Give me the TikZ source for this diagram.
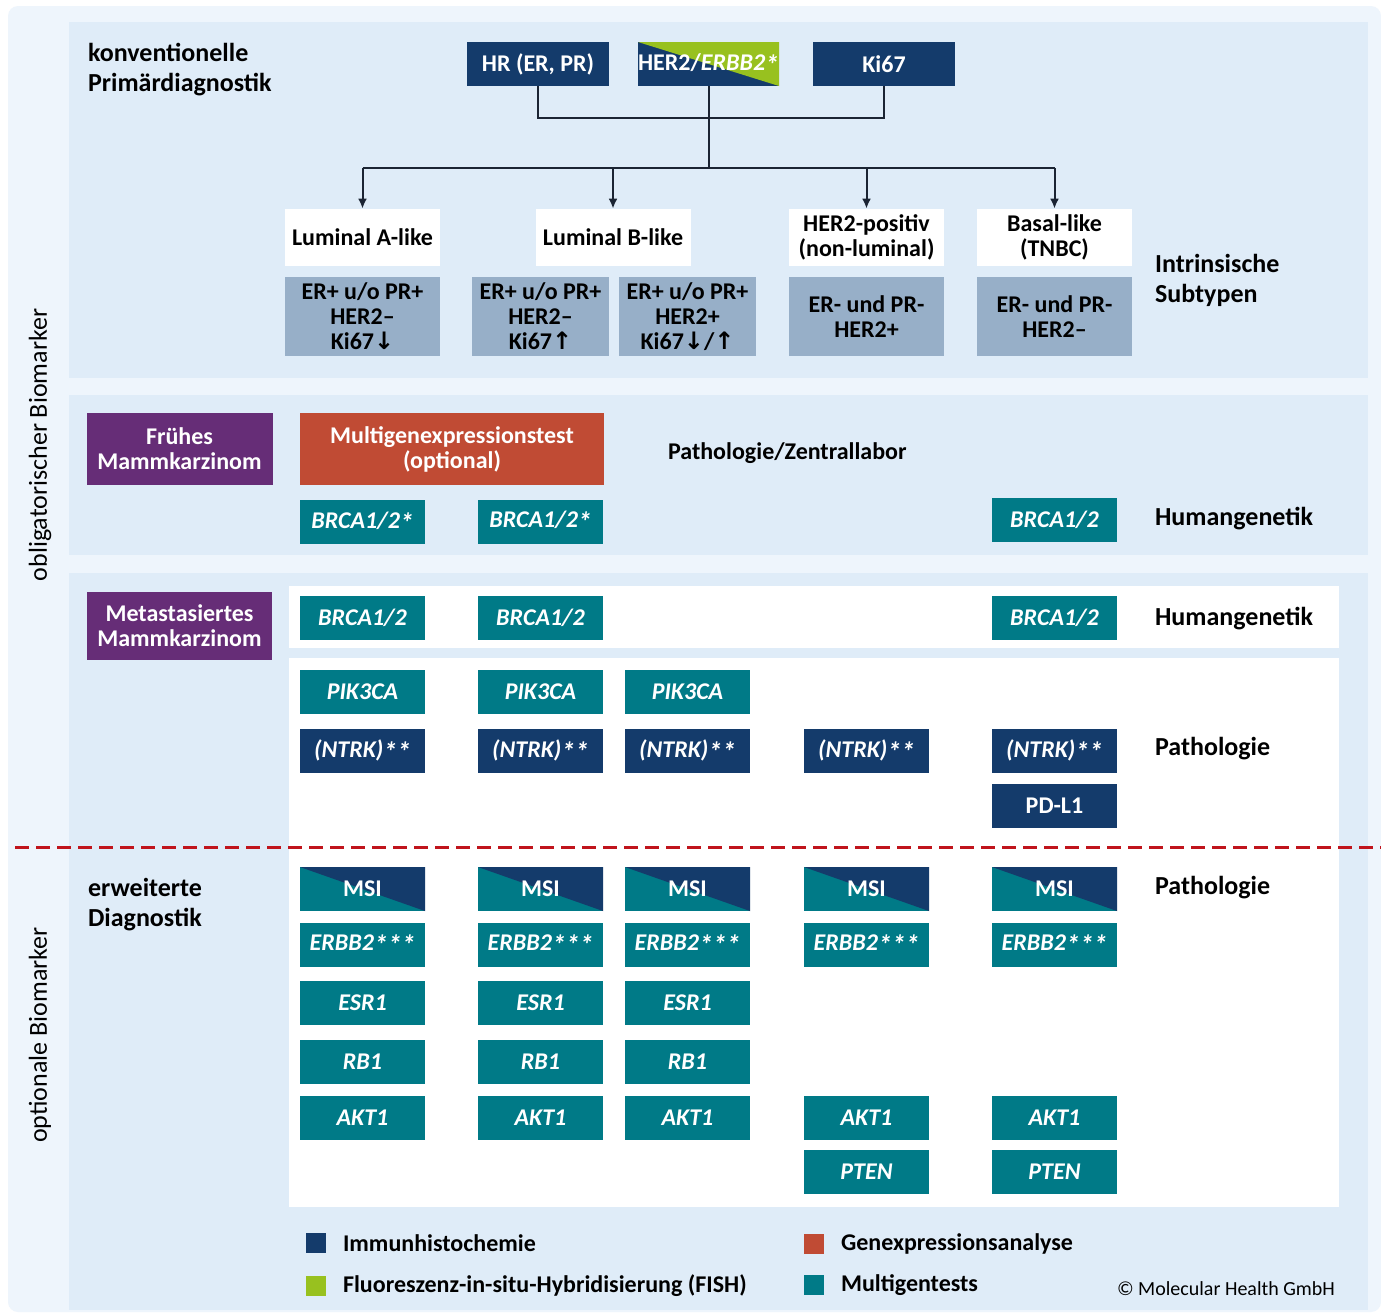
\documentclass[tikz,border=0pt]{standalone}
\usepackage{fontspec}
\setmainfont{Carlito}
\newfontfamily\arrowfont{DejaVu Sans}
\usetikzlibrary{arrows.meta}

\definecolor{navy}{HTML}{143B6B}
\definecolor{petrol}{HTML}{007A87}
\definecolor{lime}{HTML}{98C11F}
\definecolor{brick}{HTML}{C04B34}
\definecolor{plum}{HTML}{662D77}
\definecolor{slate}{HTML}{97AFC8}
\definecolor{panel}{HTML}{DFECF8}
\definecolor{pale}{HTML}{EEF5FC}
\definecolor{cutline}{HTML}{C0141C}
\definecolor{wire}{HTML}{1B2433}

% footnote star, set lower and larger than Carlito's raised asterisk
\newcommand\fnstar{\raisebox{-0.35ex}{\scalebox{1.15}{*}}}

\tikzset{
  box/.style={inner sep=0pt, align=center, font=\fontsize{12}{12.5}\selectfont\bfseries},
  ihc/.style={box, fill=navy, text=white, minimum width=71pt, minimum height=22pt},
  gene/.style={box, fill=petrol, text=white, minimum width=62.5pt, minimum height=22pt,
    font=\fontsize{12}{12.5}\selectfont\bfseries\itshape},
  ihcgene/.style={gene, fill=navy},
  halves/.style={path picture={\fill[#1] (path picture bounding box.north west)
    -- (path picture bounding box.north east) -- (path picture bounding box.south east) -- cycle;}},
  msi/.style={box, fill=petrol, text=white, halves=navy, minimum width=62.5pt, minimum height=22pt},
  subtype/.style={box, fill=white, minimum width=77.5pt, minimum height=28.5pt},
  profile/.style={box, fill=slate, minimum width=77.5pt, minimum height=39.5pt},
  entity/.style={box, fill=plum, text=white, minimum width=93pt},
  lbl/.style={anchor=west, align=left, font=\fontsize{13}{15}\selectfont\bfseries},
  side/.style={rotate=90, font=\fontsize{13}{15}\selectfont},
  link/.style={draw=wire, line width=1pt},
  arrow/.style={link, -{Latex[length=5pt,width=4.5pt]}},
  key/.style={fill=#1, minimum size=10pt, inner sep=0pt},
  keytext/.style={anchor=west, font=\fontsize{12}{14}\selectfont\bfseries}
}

\begin{document}
\begin{tikzpicture}[x=0.5pt, y=-0.5pt]
\useasboundingbox (0,0) rectangle (1381,1314);
% backgrounds
\fill[white] (0,0) rectangle (1381,1314);
\fill[pale, rounded corners=5pt] (8,6) rectangle (1381,1312);
\fill[panel] (69,22) rectangle (1368,378);
\fill[panel] (69,395) rectangle (1368,555);
\fill[panel] (69,573) rectangle (1368,1310);
\fill[white] (289,586) rectangle (1339,648);
\fill[white] (289,658) rectangle (1339,1207);

% side labels
\node (oblig) [side] at (40,445) {obligatorischer Biomarker};
\node (option) [side] at (40,1035) {optionale Biomarker};

% conventional diagnostics
\node (konv) [lbl] at (81,70) {konventionelle\\Primärdiagnostik};
\node (hr) [ihc] at (538,64) {HR (ER, PR)};
\node (her) [ihc, minimum width=70.5pt, halves=lime] at (708.5,64) {HER2/\textit{ERBB2\fnstar}};
\node (ki) [ihc] at (884,64) {Ki67};

\node (luma) [subtype] at (362.5,237.5) {Luminal A-like};
\node (lumb) [subtype] at (613,237.5) {Luminal B-like};
\node (herpos) [subtype] at (866.5,237.5) {HER2-positiv\\(non-luminal)};
\node (basal) [subtype] at (1054.5,237.5) {Basal-like\\(TNBC)};

\node (proa) [profile] at (362.5,316.5) {ER+ u/o PR+\\HER2–\\Ki67{\arrowfont↓}};
\node (prob1) [profile, minimum width=68.5pt] at (540.5,316.5) {ER+ u/o PR+\\HER2–\\Ki67{\arrowfont↑}};
\node (prob2) [profile, minimum width=68.5pt] at (687.5,316.5) {ER+ u/o PR+\\HER2+\\Ki67{\arrowfont↓}/{\arrowfont↑}};
\node (proh) [profile] at (866.5,316.5) {ER- und PR-\\HER2+};
\node (prot) [profile] at (1054.5,316.5) {ER- und PR-\\HER2–};
\node (intr) [lbl] at (1148,280) {Intrinsische\\Subtypen};

\coordinate (merge) at (708.5,118);
\coordinate (fork) at (708.5,168);
\draw[link] (hr.south) |- (merge) -| (ki.south);
\draw[link] (her.south) -- (fork);
\draw[link] (luma.north |- fork) -- (basal.north |- fork);
\foreach \t in {luma,lumb,herpos,basal}
  \draw[arrow] (\t.north |- fork) -- (\t.north);

% early breast cancer
\node (early) [entity, minimum height=36pt] at (179.5,449) {Frühes\\Mammkarzinom};
\node (mgt) [box, fill=brick, text=white, minimum width=152pt, minimum height=36pt] at (452,449) {Multigenexpressionstest\\(optional)};
\node (zentral) [lbl, font=\fontsize{12}{15}\selectfont\bfseries] at (661,453) {Pathologie/Zentrallabor};
\node (brcaA) [gene] at (362.5,522) {BRCA1/2\fnstar};
\node (brcaB) [gene] at (540.5,521.5) {BRCA1/2\fnstar};
\node (brcaE) [gene] at (1054.5,519.5) {BRCA1/2};
\node (hgA) [lbl] at (1148,519) {Humangenetik};

% metastatic breast cancer
\node (meta) [entity, minimum width=92.5pt, minimum height=34pt] at (179.5,626) {Metastasiertes\\Mammkarzinom};
\node (mbrcaA) [gene] at (362.5,618) {BRCA1/2};
\node (mbrcaB) [gene] at (540.5,618) {BRCA1/2};
\node (mbrcaE) [gene] at (1054.5,618) {BRCA1/2};
\node (hgB) [lbl] at (1148,619) {Humangenetik};
\node (pikA) [gene] at (362.5,692) {PIK3CA};
\node (pikB) [gene] at (540.5,692) {PIK3CA};
\node (pikC) [gene] at (687.5,692) {PIK3CA};
\node (ntrkA) [ihcgene] at (362.5,751) {(NTRK)\fnstar\fnstar};
\node (ntrkB) [ihcgene] at (540.5,751) {(NTRK)\fnstar\fnstar};
\node (ntrkC) [ihcgene] at (687.5,751) {(NTRK)\fnstar\fnstar};
\node (ntrkD) [ihcgene] at (866.5,751) {(NTRK)\fnstar\fnstar};
\node (ntrkE) [ihcgene] at (1054.5,751) {(NTRK)\fnstar\fnstar};
\node (pdl) [ihcgene, font=\fontsize{12}{12.5}\selectfont\bfseries] at (1054.5,806) {PD-L1};
\node (pathA) [lbl] at (1148,749) {Pathologie};

\draw[cutline, line width=1.5pt, dash pattern=on 7pt off 3.5pt] (15,847) -- (1381,847);

% extended diagnostics
\node (erw) [lbl] at (81,905) {erweiterte\\Diagnostik};
\node (msiA) [msi] at (362.5,889) {MSI};
\node (msiB) [msi] at (540.5,889) {MSI};
\node (msiC) [msi] at (687.5,889) {MSI};
\node (msiD) [msi] at (866.5,889) {MSI};
\node (msiE) [msi] at (1054.5,889) {MSI};
\node (pathB) [lbl] at (1148,888) {Pathologie};
\node (erbA) [gene] at (362.5,945) {ERBB2\fnstar\fnstar\fnstar};
\node (erbB) [gene] at (540.5,945) {ERBB2\fnstar\fnstar\fnstar};
\node (erbC) [gene] at (687.5,945) {ERBB2\fnstar\fnstar\fnstar};
\node (erbD) [gene] at (866.5,945) {ERBB2\fnstar\fnstar\fnstar};
\node (erbE) [gene] at (1054.5,945) {ERBB2\fnstar\fnstar\fnstar};
\node (esrA) [gene] at (362.5,1003) {ESR1};
\node (esrB) [gene] at (540.5,1003) {ESR1};
\node (esrC) [gene] at (687.5,1003) {ESR1};
\node (rbA) [gene] at (362.5,1062) {RB1};
\node (rbB) [gene] at (540.5,1062) {RB1};
\node (rbC) [gene] at (687.5,1062) {RB1};
\node (aktA) [gene] at (362.5,1118) {AKT1};
\node (aktB) [gene] at (540.5,1118) {AKT1};
\node (aktC) [gene] at (687.5,1118) {AKT1};
\node (aktD) [gene] at (866.5,1118) {AKT1};
\node (aktE) [gene] at (1054.5,1118) {AKT1};
\node (ptenD) [gene] at (866.5,1172) {PTEN};
\node (ptenE) [gene] at (1054.5,1172) {PTEN};

% legend
\node (kIhc) [key=navy] at (316,1243) {};
\node (tIhc) [keytext] at (336,1243) {Immunhistochemie};
\node (kFish) [key=lime] at (316,1286) {};
\node (tFish) [keytext] at (336,1286) {Fluoreszenz-in-situ-Hybridisierung (FISH)};
\node (kGex) [key=brick] at (814,1244) {};
\node (tGex) [keytext] at (834,1244) {Genexpressionsanalyse};
\node (kMgt) [key=petrol] at (814,1285) {};
\node (tMgt) [keytext] at (834,1285) {Multigentests};
\node (copy) [anchor=east, font=\fontsize{10}{12}\selectfont] at (1342,1289) {© Molecular Health GmbH};
\end{tikzpicture}
\end{document}
